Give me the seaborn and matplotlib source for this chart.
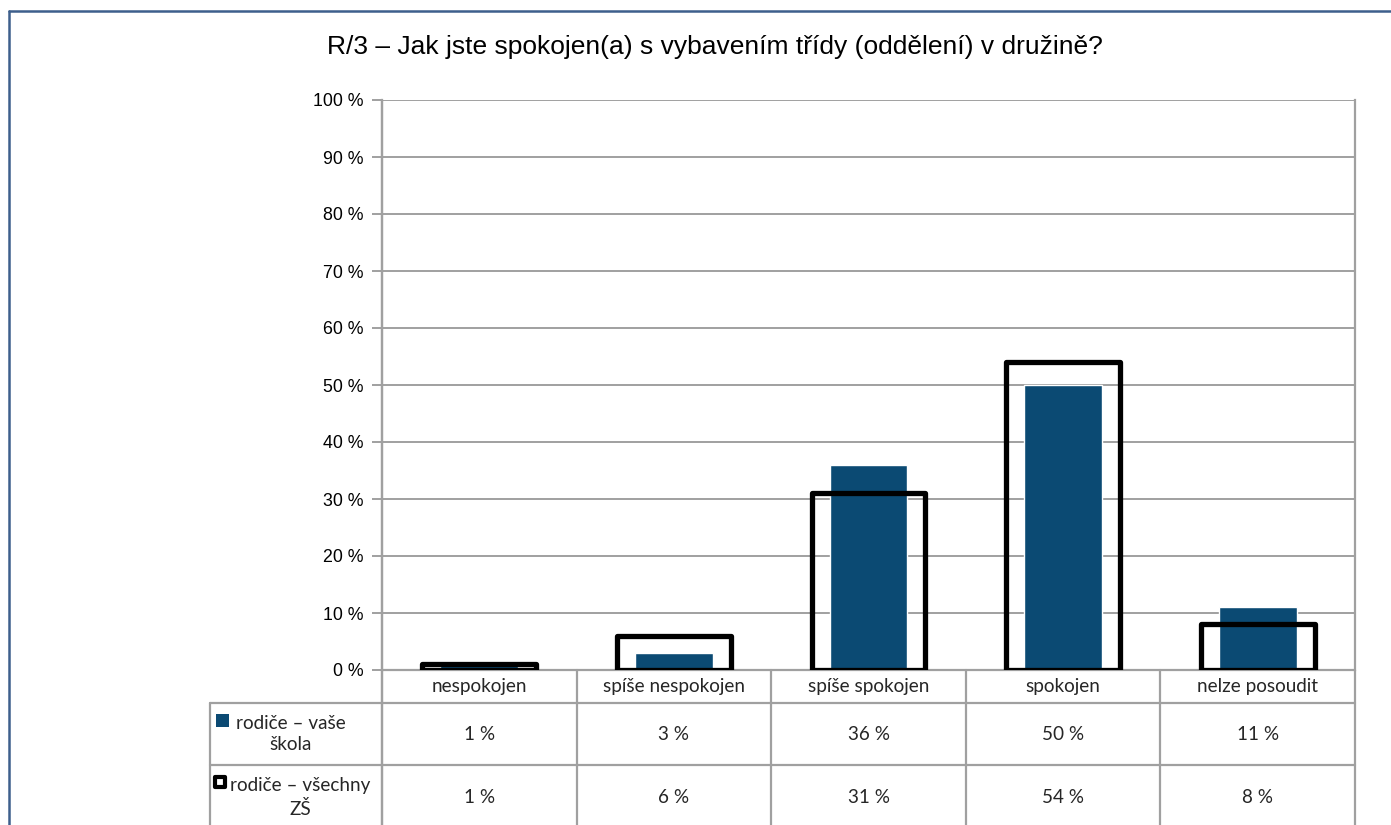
import matplotlib
matplotlib.use("Agg")
import matplotlib.pyplot as plt
import seaborn as sns
import pandas as pd
from matplotlib.patches import Rectangle
from matplotlib.lines import Line2D

categories = ["nespokojen", "spíše nespokojen", "spíše spokojen", "spokojen", "nelze posoudit"]
vase_skola = [1, 3, 36, 50, 11]
vsechny_zs = [1, 6, 31, 54, 8]
series_names = ["rodiče – vaše\nškola", "rodiče – všechny\nZŠ"]
yticks = list(range(0, 101, 10))
title = "R/3 – Jak jste spokojen(a) s vybavením třídy (oddělení) v družině?"

BLUE = "#0B4A73"
GRID = "#A0A0A0"

sns.set_theme(style="white")
plt.rcParams["font.family"] = ["Liberation Sans", "DejaVu Sans"]

W, H = 1391, 825
fig = plt.figure(figsize=(W / 100, H / 100), dpi=100)
ax = fig.add_axes([382 / W, (H - 670) / H, 973 / W, 570 / H])

df = pd.DataFrame({"cat": categories, "a": vase_skola, "b": vsechny_zs})

sns.barplot(data=df, x="cat", y="a", color=BLUE, width=0.40, ax=ax,
            saturation=1, zorder=2, order=categories)
sns.barplot(data=df, x="cat", y="b", fill=False, width=0.585, ax=ax,
            edgecolor="black", linewidth=3.8, zorder=3, order=categories)
for p in ax.patches[len(categories):]:
    p.set_joinstyle("round")
    p.set_facecolor("none")
    p.set_edgecolor("black")

ax.set_ylim(0, 100)
ax.set_xlim(-0.5, len(categories) - 0.5)
ax.set_yticks(yticks)
ax.set_yticklabels([f"{v} %" for v in yticks], fontsize=12.8, color="black")
ax.set_xticks([])
ax.set_xlabel("")
ax.set_ylabel("")
ax.yaxis.grid(True, color=GRID, linewidth=1.4, zorder=0)
ax.set_axisbelow(True)
ax.tick_params(axis="y", which="major", left=True, length=7, width=1.4,
               color=GRID, pad=6)
for s in ["top", "bottom"]:
    ax.spines[s].set_visible(False)
for s in ["left", "right"]:
    ax.spines[s].set_color(GRID)
    ax.spines[s].set_linewidth(1.6)

# data table below the chart
row1 = -33 / 570
row2 = -95 / 570
row3 = -160 / 570
left_col = -172 / 973
tr = ax.transAxes
table_font = ["Lato", "DejaVu Sans"]
FS = 13.6
lc = GRID
lw = 1.6

def hline(y, x0, x1):
    ax.add_line(Line2D([x0, x1], [y, y], transform=tr, color=lc, lw=lw, clip_on=False))

def vline(x, y0, y1):
    ax.add_line(Line2D([x, x], [y0, y1], transform=tr, color=lc, lw=lw, clip_on=False))

hline(0, 0, 1)
hline(row1, left_col, 1)
hline(row2, left_col, 1)
n = len(categories)
for i in range(n + 1):
    vline(i / n, 0, row3)
vline(0, 1, row3)
vline(left_col, row1, row3)

for i, c in enumerate(categories):
    xc = (i + 0.5) / n
    ax.text(xc, row1 / 2, c, transform=tr, ha="center", va="center",
            fontsize=FS, family=table_font)
    ax.text(xc, (row1 + row2) / 2, f"{vase_skola[i]} %", transform=tr,
            ha="center", va="center", fontsize=FS, family=table_font)
    ax.text(xc, (row2 + row3) / 2, f"{vsechny_zs[i]} %", transform=tr,
            ha="center", va="center", fontsize=FS, family=table_font)

# legend keys in table
key_w = 13 / 973
key_h = 13 / 570
kx_list = [(216 - 382) / 973, (213 - 382) / 973]
ky_list = [-(720.5 - 670) / 570, -(781.5 - 670) / 570]
text_x = [(291 - 382) / 973, (300 - 382) / 973]
for j, (name, yc) in enumerate(zip(series_names, [(row1 + row2) / 2, (row2 + row3) / 2])):
    kx = kx_list[j]
    ky = ky_list[j]
    if j == 0:
        ax.add_patch(Rectangle((kx, ky - key_h / 2), key_w, key_h, transform=tr,
                               facecolor=BLUE, edgecolor="none", clip_on=False))
    else:
        ax.add_patch(Rectangle((kx + 1.5 / 973, ky - key_h / 2 + 1.5 / 570), key_w - 3 / 973,
                               key_h - 3 / 570, transform=tr, facecolor="white",
                               edgecolor="black", linewidth=3, joinstyle="round",
                               clip_on=False))
    ax.text(text_x[j], yc, name, transform=tr, ha="center", va="center",
            fontsize=FS, family=table_font, linespacing=1.35)

fig.text(715 / W, 1 - 47 / H, title, ha="center", va="center", fontsize=19,
         color="black")

# outer border
fig.add_artist(Line2D([9 / W, 9 / W], [0, 1 - 11 / H], transform=fig.transFigure,
                      color="#3D5F8C", lw=1.8))
fig.add_artist(Line2D([9 / W, 1], [1 - 11 / H, 1 - 11 / H], transform=fig.transFigure,
                      color="#3D5F8C", lw=1.8))

fig.savefig("out.png", dpi=100)
